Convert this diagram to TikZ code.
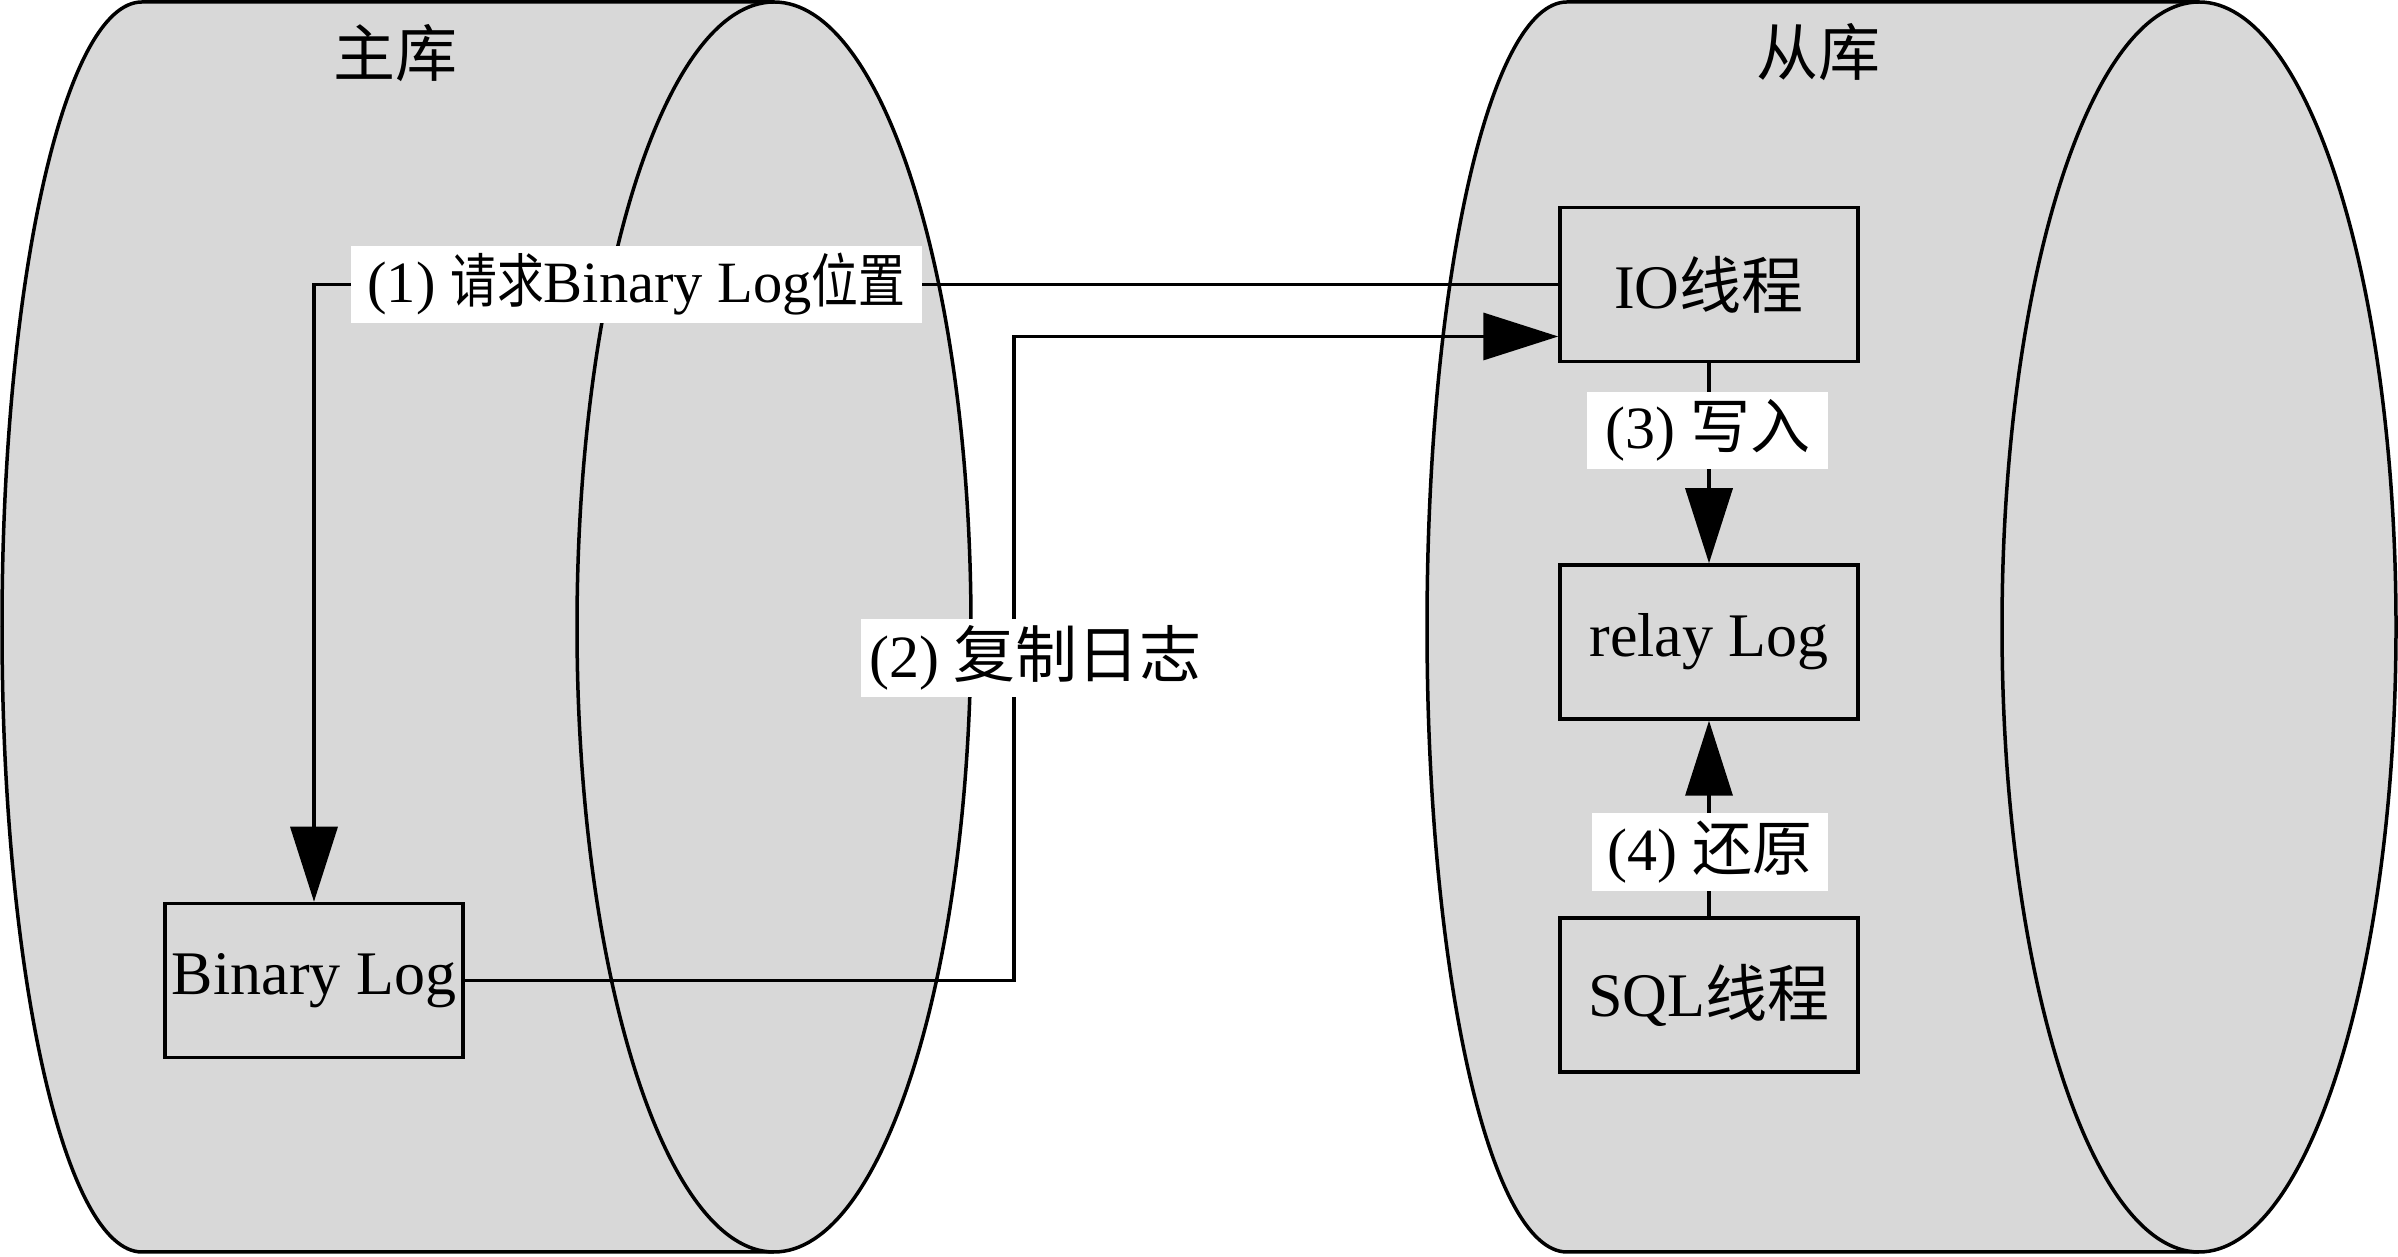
\documentclass[tikz,border=0pt]{standalone}
\usepackage{fontspec}
\setmainfont{Liberation Serif}
\newfontfamily\cjk{Noto Sans CJK SC}
\newfontfamily\cjkn[FakeStretch=0.8]{Noto Sans CJK SC}
\usetikzlibrary{arrows.meta}
\definecolor{cylgray}{HTML}{D8D8D8}
\begin{document}
\begin{tikzpicture}[x=1pt,y=1pt,
  lw/.style={line width=3.5pt},
  cyl/.style={lw, fill=cylgray, draw=black},
  box/.style={lw, draw=black, fill=cylgray, minimum width=298pt, minimum height=154pt, inner sep=0pt, font=\fontsize{62}{70}\selectfont},
  titletext/.style={inner sep=0pt, font=\fontsize{62}{70}\selectfont},
  lbl/.style={fill=white, inner sep=0pt, font=\fontsize{60}{68}\selectfont},
  conn/.style={lw, draw=black},
  arr/.style={lw, draw=black, -{Triangle[length=75pt,width=47pt]}},
]
\useasboundingbox (0,0) rectangle (2398,1257);
% left cylinder
\path[cyl] (142,1255) arc[start angle=90,end angle=270,x radius=140,y radius=625]
  -- (774,5) arc[start angle=-90,end angle=90,x radius=197,y radius=625] -- cycle;
\draw[lw] (774,1255) arc[start angle=90,end angle=270,x radius=197,y radius=625];
% right cylinder
\path[cyl] (1567,1255) arc[start angle=90,end angle=270,x radius=140,y radius=625]
  -- (2199,5) arc[start angle=-90,end angle=90,x radius=197,y radius=625] -- cycle;
\draw[lw] (2199,1255) arc[start angle=90,end angle=270,x radius=197,y radius=625];
% titles
\node[titletext] (t1) at (395,1204) {\cjk 主库};
\node[titletext] (t2) at (1818,1205) {\cjk 从库};
% boxes
\node[box] (bin) at (314,276.5) {Binary Log};
\node[box] (io) at (1709,972.5) {IO{\cjk 线程}};
\node[box] (relay) at (1709,615) {relay Log};
\node[box] (sql) at (1709,262) {SQL{\cjk 线程}};
% connectors
\draw[arr] (io.west) -| (bin.north);
\draw[arr] (bin.east) -- ++(549,0) |- ([yshift=-52pt]io.west);
\draw[arr] (io.south) -- (relay.north);
\draw[arr] (sql.north) -- (relay.south);
% labels
\node[lbl, minimum width=571pt, minimum height=77pt, font=\fontsize{58.5}{66}\selectfont] (l1) at (636.5,972.5) {(1) {\cjkn 请求}Binary Log{\cjkn 位置}};
\node[lbl, minimum width=349pt, minimum height=78pt] (l2) at (1035.5,599) {(2) {\cjk\fontsize{62}{70}\selectfont 复制日志}};
\node[lbl, minimum width=241pt, minimum height=77pt] (l3) at (1707.5,826.5) {(3) {\cjk 写入}};
\node[lbl, minimum width=236pt, minimum height=78pt] (l4) at (1710,405) {(4) {\cjk 还原}};
\end{tikzpicture}
\end{document}
